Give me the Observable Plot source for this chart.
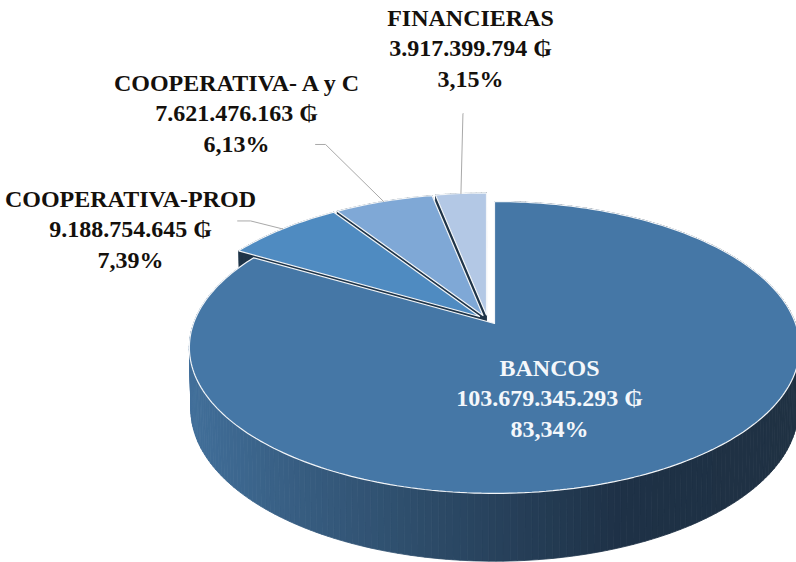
<!DOCTYPE html>
<html>
<head>
<meta charset="utf-8">
<script src="https://cdn.jsdelivr.net/npm/d3@7"></script>
<script src="https://cdn.jsdelivr.net/npm/@observablehq/plot@0.6"></script>
<style>html,body{margin:0;padding:0;background:#fff}</style>
</head>
<body>
<div id="chart"></div>
<script>
// Data
const categories = ["BANCOS", "COOPERATIVA-PROD", "COOPERATIVA- A y C", "FINANCIERAS"];
const amounts = [103679345293, 9188754645, 7621476163, 3917399794];
const amountLabels = ["103.679.345.293 ₲", "9.188.754.645 ₲", "7.621.476.163 ₲", "3.917.399.794 ₲"];
const shareLabels = ["83,34%", "7,39%", "6,13%", "3,15%"];

// Styles and view
const W = 796, H = 562;
const fills = ["#4577a6", "#4f8bc1", "#7fa8d6", "#b3c8e5"];
const A = 301, B = 142, P = 0.164;            // projected radii and perspective of the pie
const originX = 494 / A, originY = 323 / B;   // where the pie's axis sits in the view
const sideDark = "#1f3448";
const shadeStops = [-1.02, -0.65, -0.15, 0.42, 1.02];
const shadeColors = ["#416f9a", "#375d81", "#2b4864", "#1e3146", "#1f3143"];
const explodeX = [0, -15 / A, -11.5 / A, -8 / A];
const explodeY = [0, -7 / B, -8 / B, -8.5 / B];
const labelX = [55 / A, -364 / A, -258 / A, -24 / A];
const labelY = [73 / B, -96 / B, -212 / B, -277 / B];
const leaderStartX = [null, -45 / A, -68 / A, 2 / A];
const leaderStartY = [null, -8 / B, -57 / B, -80 / B];
const leaderElbowX = [null, -32 / A, -58 / A, 2 / A];
const leaderElbowY = [null, -8 / B, -57 / B, -80 / B];

// Projection of a point of the unit pie
const project = (t, dx = 0, dy = 0) => {
  const u = Math.sin(t), v = -Math.cos(t), w = 1 - P * v;
  return [u / w + dx, v / w + dy];
};
const lower = ([x, y]) => [x * 0.995, y * 1.04 + 0.43];   // the pie's bottom face

const arcs = d3.pie().sort(null)(amounts);
const outline = (a, i) => {
  const n = Math.max(4, Math.ceil((a.endAngle - a.startAngle) / 0.02));
  const pts = [[explodeX[i], explodeY[i]]];
  for (let k = 0; k <= n; ++k)
    pts.push(project(a.startAngle + (a.endAngle - a.startAngle) * k / n, explodeX[i], explodeY[i]));
  pts.push(pts[0]);
  return pts;
};
const outlines = arcs.map(outline);

// Side walls of the three detached slices
const smallWalls = [];
for (let i = 1; i < arcs.length; ++i) {
  const o = outlines[i];
  for (let k = 0; k + 1 < o.length; ++k) {
    const id = i + "-" + k;
    [o[k], o[k + 1], lower(o[k + 1]), lower(o[k]), o[k]].forEach(p => smallWalls.push({id, x: p[0], y: p[1]}));
  }
}
// Side wall of the big slice, shaded from left to right
const mainWall = [];
{
  const o = outlines[0].slice(1, -1);
  for (let k = 0; k + 1 < o.length; ++k) {
    const shade = (o[k][0] + o[k + 1][0]) / 2;
    [o[k], o[k + 1], lower(o[k + 1]), lower(o[k]), o[k]].forEach(p => mainWall.push({id: k, x: p[0], y: p[1], shade}));
  }
}
const tops = outlines.map(o => o.map(p => ({x: p[0], y: p[1]})));

const leaders = [];
arcs.forEach((a, i) => {
  if (i === 0) return;
  const e = project((a.startAngle + a.endAngle) / 2, explodeX[i], explodeY[i]);
  [[e[0] + leaderStartX[i], e[1] + leaderStartY[i]], [e[0] + leaderElbowX[i], e[1] + leaderElbowY[i]], e]
    .forEach(p => leaders.push({id: i, x: p[0], y: p[1]}));
});

const labels = categories.map((c, i) => ({
  x: labelX[i], y: labelY[i],
  text: c + "\n" + amountLabels[i] + "\n" + shareLabels[i],
  color: i === 0 ? "#f4f7fb" : "#14100c"
}));

const topMark = i => Plot.line(tops[i], {
  x: "x", y: "y", fill: fills[i], stroke: "#f2f5f8", strokeWidth: 1.2, curve: "linear", strokeLinejoin: "miter"
});

const chart = Plot.plot({
  width: W, height: H, margin: 0,
  x: {axis: null, domain: [-originX, W / A - originX], range: [0, W]},
  y: {axis: null, domain: [-originY, H / B - originY], range: [0, H]},
  color: {type: "linear", domain: shadeStops, range: shadeColors},
  marks: [
    Plot.line(smallWalls, {x: "x", y: "y", z: "id", fill: sideDark, stroke: sideDark, strokeWidth: 0.5, curve: "linear"}),
    Plot.line(mainWall, {x: "x", y: "y", z: "id", fill: "shade", stroke: "shade", strokeWidth: 0.8, curve: "linear"}),
    topMark(0), topMark(1), topMark(2), topMark(3),
    Plot.line(leaders, {x: "x", y: "y", z: "id", stroke: "#a9a9a9", strokeWidth: 1, curve: "linear"}),
    Plot.text(labels, {
      x: "x", y: "y", text: "text", fill: "color",
      fontFamily: "'Liberation Serif', serif", fontWeight: "bold", fontSize: 24,
      lineHeight: 1.27, textAnchor: "middle", frameAnchor: "middle"
    })
  ]
});
document.getElementById("chart").appendChild(chart);
</script>
</body>
</html>
